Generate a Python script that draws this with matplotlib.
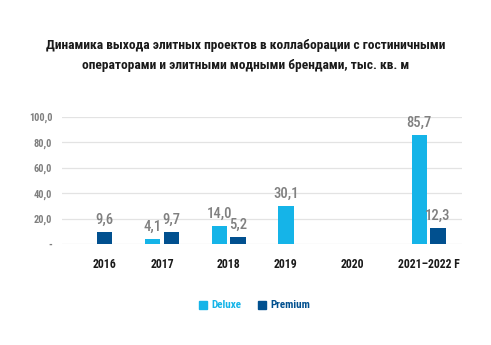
import matplotlib
matplotlib.use("Agg")
import matplotlib.pyplot as plt
import numpy as np

years = ["2016", "2017", "2018", "2019", "2020", "2021–2022 F"]
deluxe = [0, 4.1, 14.0, 30.1, 0, 85.7]
premium = [9.6, 9.7, 5.2, 0, 0, 12.3]
yticks = [0, 20, 40, 60, 80, 100]

c_deluxe = "#15b4e8"
c_premium = "#01508f"
font = ["Roboto Condensed", "DejaVu Sans"]

def fmt(v):
    return ("%.1f" % v).replace(".", ",")

fig = plt.figure(figsize=(4.91, 3.45), dpi=100, facecolor="w")
ax = fig.add_axes([62 / 491, 101 / 345, 400 / 491, 127 / 345])

x = np.arange(len(years))
w = 0.23
off = 0.14
label_x = []
for i in range(len(years)):
    shown = []
    if deluxe[i] > 0:
        ax.bar(x[i] - off, deluxe[i], w, color=c_deluxe, zorder=3)
        ax.text(x[i] - off, deluxe[i] + 4, fmt(deluxe[i]), ha="center", va="bottom",
                fontsize=10.5, color="#808080", family=font, weight="medium")
        shown.append(x[i] - off)
    if premium[i] > 0:
        ax.bar(x[i] + off, premium[i], w, color=c_premium, zorder=3)
        ax.text(x[i] + off, premium[i] + 4, fmt(premium[i]), ha="center", va="bottom",
                fontsize=10.5, color="#808080", family=font, weight="medium")
        shown.append(x[i] + off)
    # category label sits under the bars that are drawn
    label_x.append(np.mean(shown) if shown else x[i] - off)

ax.set_xlim(-0.5, 5.5)
ax.set_ylim(0, 100)
ax.set_yticks(yticks)
ax.set_yticklabels(["-"] + [fmt(v) for v in yticks[1:]], family=font, weight="bold",
                   fontsize=7.5, color="#7f7f7f")
ax.set_xticks(label_x)
ax.set_xticklabels(years, family=font, weight="bold", fontsize=8.5, color="#1a1a1a")
ax.tick_params(length=0)
ax.tick_params(axis="y", pad=7)
ax.tick_params(axis="x", pad=10)
ax.grid(axis="y", color="#e3e3e3", lw=0.9, zorder=0)
for s in ax.spines.values():
    s.set_visible(False)

fig.text(0.5, 1 - 45 / 345, "Динамика выхода элитных проектов в коллаборации с гостиничными",
         ha="center", va="center", fontsize=9.7, weight="bold", family=font, color="#1a1a1a")
fig.text(0.5, 1 - 66 / 345, "операторами и элитными модными брендами, тыс. кв. м",
         ha="center", va="center", fontsize=9.7, weight="bold", family=font, color="#1a1a1a")

# legend
fig.patches.append(plt.Rectangle((199 / 491, 1 - 309 / 345), 8 / 491, 8 / 345,
                                 transform=fig.transFigure, color=c_deluxe))
fig.text(211 / 491, 1 - 305 / 345, "Deluxe", va="center", fontsize=8, weight="bold",
         family=font, color=c_deluxe)
fig.patches.append(plt.Rectangle((258 / 491, 1 - 309 / 345), 8 / 491, 8 / 345,
                                 transform=fig.transFigure, color=c_premium))
fig.text(270 / 491, 1 - 305 / 345, "Premium", va="center", fontsize=8, weight="bold",
         family=font, color=c_premium)

fig.savefig("out.png", dpi=100)
